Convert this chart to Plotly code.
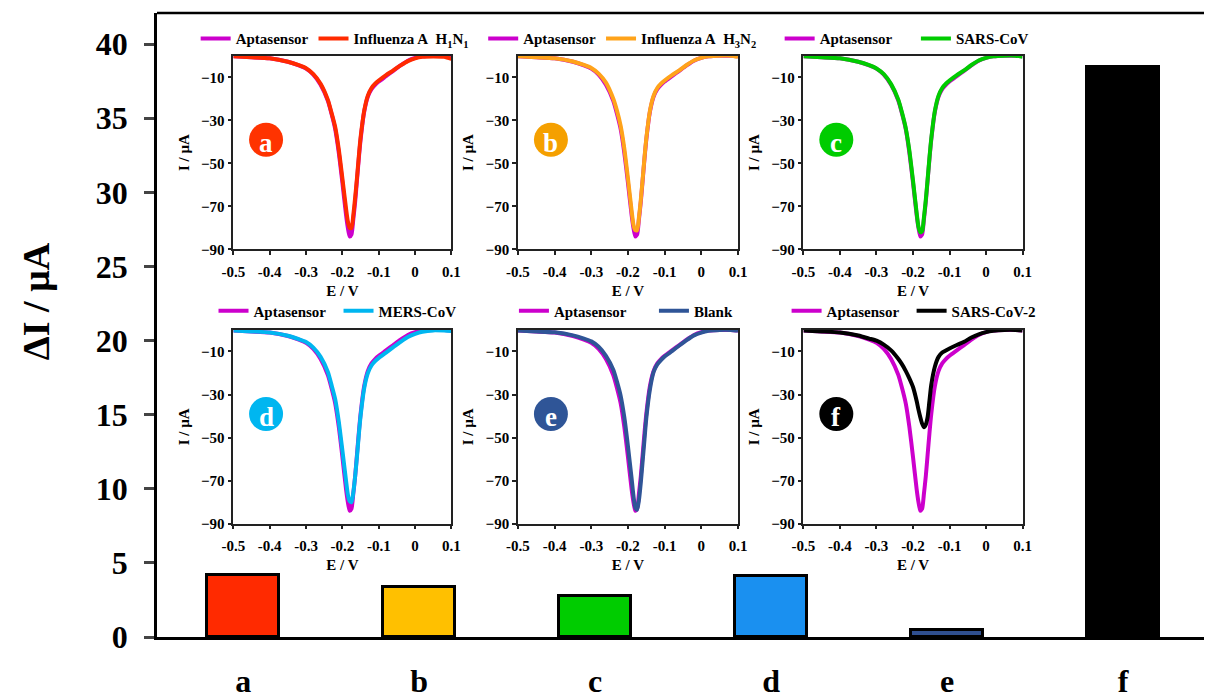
import plotly.graph_objects as go

# ---------------- data ----------------
categories = ["a", "b", "c", "d", "e", "f"]
delta_I = [4.15, 3.35, 2.8, 4.1, 0.45, 38.45]
bar_colors = ["#FF2A00", "#FFC000", "#00CC00", "#1A90F0", "#2F4F8F", "#000000"]

main_yticks = [0, 5, 10, 15, 20, 25, 30, 35, 40]
inset_yticks = [-10, -30, -50, -70, -90]
inset_xticks = [-0.5, -0.4, -0.3, -0.2, -0.1, 0.0, 0.1]
inset_xticklabels = ["-0.5", "-0.4", "-0.3", "-0.2", "-0.1", "0", "0.1"]

E = [-0.5, -0.45, -0.4, -0.35, -0.32, -0.3, -0.28, -0.26, -0.24, -0.23, -0.22, -0.21,
     -0.2, -0.19, -0.185, -0.18, -0.175, -0.17, -0.165, -0.16, -0.155, -0.15, -0.14,
     -0.13, -0.12, -0.11, -0.1, -0.08, -0.06, -0.04, -0.02, 0.0, 0.02, 0.05, 0.08, 0.1]

I_aptasensor = [-0.3, -0.7, -1.2, -2.8, -4.5, -6.0, -8.8, -13.5, -21.0, -27.0, -34.0, -45.0,
                -59.0, -74.0, -80.0, -84.0, -83.0, -76.0, -68.0, -58.0, -48.0, -39.0, -26.0,
                -19.0, -15.5, -13.5, -12.0, -9.5, -7.0, -4.5, -2.3, -1.0, -0.3, 0.0, 0.0, -0.2]
I_h1n1 = [-0.3, -0.7, -1.2, -2.8, -4.4, -5.8, -8.5, -13.0, -20.5, -26.5, -33.0, -43.5,
          -57.0, -71.0, -77.0, -80.0, -80.0, -74.0, -66.0, -57.0, -47.0, -38.0, -25.5,
          -18.5, -15.0, -13.0, -11.5, -9.0, -6.8, -4.5, -2.5, -1.2, -0.5, -0.3, -0.5, -1.5]
I_h3n2 = [-0.3, -0.7, -1.2, -2.7, -4.3, -5.7, -8.3, -12.5, -20.0, -25.5, -32.5, -43.0,
          -57.0, -72.0, -78.5, -81.0, -81.0, -75.0, -67.0, -57.5, -47.5, -38.5, -25.5,
          -18.5, -15.0, -13.0, -11.5, -9.0, -6.8, -4.3, -2.2, -1.0, -0.3, 0.0, 0.0, -0.5]
I_sars = [-0.3, -0.7, -1.2, -2.8, -4.4, -5.9, -8.6, -13.2, -20.5, -26.5, -33.5, -44.0,
          -58.0, -73.0, -79.5, -82.0, -81.5, -75.0, -67.0, -57.5, -47.5, -38.5, -25.5,
          -18.5, -15.0, -13.0, -11.5, -9.0, -6.8, -4.3, -2.2, -1.0, -0.3, 0.0, 0.0, -0.5]
I_mers = [-0.3, -0.7, -1.2, -2.7, -4.3, -5.6, -8.2, -12.5, -19.5, -25.5, -32.0, -42.5,
          -56.0, -70.0, -76.5, -79.5, -80.0, -75.5, -68.0, -59.0, -49.0, -40.0, -27.0,
          -20.0, -16.5, -14.5, -13.0, -10.5, -8.0, -5.5, -3.3, -1.8, -0.8, -0.2, -0.3, -0.5]
I_blank = [-0.3, -0.7, -1.1, -2.5, -4.0, -5.3, -7.8, -12.0, -18.5, -24.0, -30.5, -40.5,
           -54.0, -69.0, -77.0, -82.5, -83.5, -79.0, -71.0, -61.0, -51.0, -41.0, -27.5,
           -19.5, -16.0, -14.0, -12.3, -9.8, -7.2, -4.7, -2.5, -1.2, -0.4, 0.0, 0.0, -0.3]
I_sars2 = [-0.3, -0.7, -1.2, -2.6, -4.0, -5.0, -6.8, -9.5, -13.5, -16.0, -19.0, -22.5,
           -26.5, -33.0, -37.0, -40.5, -43.5, -45.2, -44.0, -40.5, -33.0, -25.5, -17.0,
           -12.5, -10.5, -9.5, -8.6, -7.0, -5.5, -3.5, -2.0, -1.0, -0.4, 0.0, 0.0, -0.3]

target_names = ["Influenza A\u00a0\u00a0H<sub>1</sub>N<sub>1</sub>",
                "Influenza A\u00a0\u00a0H<sub>3</sub>N<sub>2</sub>",
                "SARS-CoV", "MERS-CoV", "Blank", "SARS-CoV-2"]
target_series = [I_h1n1, I_h3n2, I_sars, I_mers, I_blank, I_sars2]
target_colors = ["#FF2A00", "#FFA31A", "#00CC00", "#00B6F0", "#2F5597", "#000000"]
circle_colors = ["#FF3300", "#F5A000", "#00CC00", "#00B6F0", "#2F5597", "#000000"]
apta_color = "#CC00CC"

# ---------------- layout helpers ----------------
FONT = "Liberation Serif"
W, H = 1213, 699
ML, MR, MT, MB = 157, 0, 13, 58
PW, PH = W - ML - MR, H - MT - MB

def px_x(p):
    return (p - ML) / PW

def px_y(p):
    return (H - MB - p) / PH

inset_x_px = [(234, 454), (521, 743), (809, 1030)]
inset_y_px = [(56, 251), (332, 527)]
legend_pos_px = [(196, 39), (486, 39), (785, 39), (214, 313), (517, 313), (792, 313)]
apta_pad = [0, 0, 5, 2, 6, 2]   # non-breaking spaces after "Aptasensor" in each legend

fig = go.Figure()

fig.add_trace(go.Bar(
    x=categories, y=delta_I, width=0.41,
    marker=dict(color=bar_colors, line=dict(color="black", width=3)),
    showlegend=False, xaxis="x", yaxis="y"))

layout = dict(
    width=W, height=H,
    margin=dict(l=ML, r=MR, t=MT, b=MB),
    paper_bgcolor="white", plot_bgcolor="white",
    font=dict(family=FONT, color="black"),
    bargap=0,
    xaxis=dict(domain=[0, 1], range=[-0.49, 5.46], showline=True, linecolor="black",
               linewidth=2.5, ticks="", showgrid=False, zeroline=False,
               tickfont=dict(family=FONT, size=32, weight="bold"), ticklabelstandoff=14),
    yaxis=dict(domain=[0, 1], range=[0, 42.1], tickvals=main_yticks, showline=True,
               linecolor="black", linewidth=2.5, ticks="outside", ticklen=10, tickwidth=2.5,
               showgrid=False, zeroline=False,
               tickfont=dict(family=FONT, size=32, weight="bold"), ticklabelstandoff=10),
    shapes=[dict(type="line", xref="paper", yref="paper", x0=0, x1=1, y0=1, y1=1,
                 line=dict(color="black", width=2.5))],
    annotations=[dict(text="<b>ΔI / µA</b>", xref="paper", yref="paper",
                      x=px_x(35), y=px_y(303), xanchor="center", yanchor="middle",
                      textangle=-90, showarrow=False,
                      font=dict(family=FONT, size=38))],
)

for k in range(6):
    r, c = divmod(k, 3)
    n = k + 2
    xa, ya = f"x{n}", f"y{n}"
    leg = "legend" if k == 0 else f"legend{k + 1}"
    x0p, x1p = inset_x_px[c]
    y0p, y1p = inset_y_px[r]
    layout[f"xaxis{n}"] = dict(
        domain=[px_x(x0p), px_x(x1p)], anchor=ya, range=[-0.5, 0.1],
        tickvals=inset_xticks, ticktext=inset_xticklabels,
        showline=True, mirror=True, linecolor="#222", linewidth=1.5,
        ticks="outside", ticklen=4, tickwidth=1.5, tickcolor="#222",
        showgrid=False, zeroline=False, ticklabelstandoff=4,
        tickfont=dict(family=FONT, size=15, weight="bold"),
        title=dict(text="E / V", font=dict(family=FONT, size=15, weight="bold"), standoff=6))
    layout[f"yaxis{n}"] = dict(
        domain=[px_y(y1p), px_y(y0p)], anchor=xa, range=[-90, 0],
        tickvals=inset_yticks,
        showline=True, mirror=True, linecolor="#222", linewidth=1.5,
        ticks="outside", ticklen=4, tickwidth=1.5, tickcolor="#222",
        showgrid=False, zeroline=False,
        tickfont=dict(family=FONT, size=15, weight="bold"),
        title=dict(text="I / µA", font=dict(family=FONT, size=15, weight="bold"), standoff=8))
    lx, ly = legend_pos_px[k]
    layout[leg] = dict(
        x=px_x(lx), y=px_y(ly), xanchor="left", yanchor="middle",
        orientation="h", bgcolor="rgba(0,0,0,0)", itemwidth=30,
        font=dict(family=FONT, size=15, weight="bold"))

    fig.add_trace(go.Scatter(
        x=E, y=I_aptasensor, mode="lines", name="Aptasensor" + "\u00a0" * apta_pad[k],
        line=dict(color=apta_color, width=4, shape="spline", smoothing=0.6),
        xaxis=xa, yaxis=ya, legend=leg))
    fig.add_trace(go.Scatter(
        x=E, y=target_series[k], mode="lines", name=target_names[k],
        line=dict(color=target_colors[k], width=4, shape="spline", smoothing=0.6),
        xaxis=xa, yaxis=ya, legend=leg))

    layout["shapes"].append(dict(
        type="circle", xref=xa, yref=ya, xsizemode="pixel", ysizemode="pixel",
        xanchor=-0.41, yanchor=-39, x0=-17, x1=17, y0=-17, y1=17,
        fillcolor=circle_colors[k], line=dict(width=0), layer="above"))
    layout["annotations"].append(dict(
        text=f"<b>{categories[k]}</b>", xref=xa, yref=ya, x=-0.41, y=-40.5,
        showarrow=False, font=dict(family=FONT, size=27, color="white")))

fig.update_layout(**layout)
fig.write_html("out.html")
